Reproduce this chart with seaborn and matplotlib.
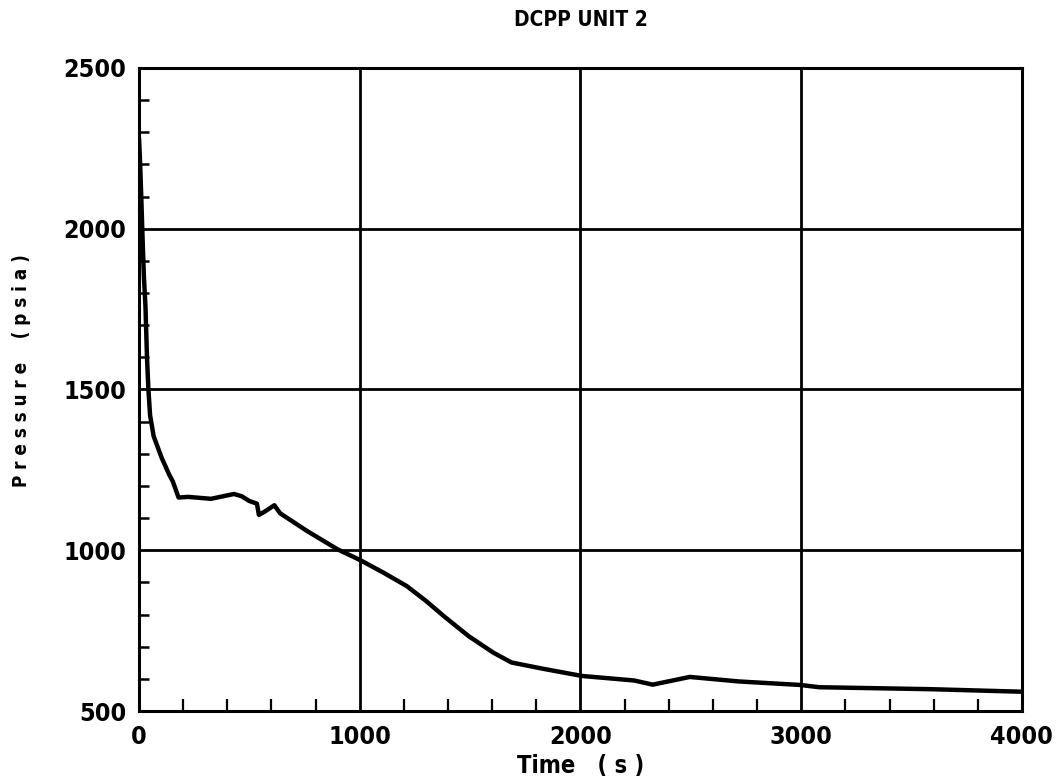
import matplotlib
matplotlib.use("Agg")
import matplotlib.pyplot as plt
from matplotlib.ticker import MultipleLocator
import seaborn as sns
import pandas as pd

# ---- data ----
time_s = [0, 5, 10, 15, 22, 29, 36, 42, 50, 66, 101, 136, 153, 179, 222, 326,
          430, 465, 500, 534, 543, 569, 613, 639, 761, 899, 1003, 1108, 1212,
          1299, 1381, 1493, 1604, 1687, 1826, 2007, 2243, 2327, 2495, 2717,
          2997, 3081, 3582, 4000]
pressure_psia = [2280, 2200, 2100, 1990, 1850, 1760, 1600, 1505, 1420, 1355,
                 1290, 1236, 1214, 1164, 1166, 1160, 1175, 1168, 1153, 1145,
                 1110, 1120, 1140, 1115, 1060, 1003, 969, 930, 889, 843, 795,
                 733, 682, 651, 632, 609, 595, 582, 606, 592, 581, 574, 568, 560]

title = "DCPP UNIT 2"
xlabel = "Time   ( s )"
ylabel = "P r e s s u r e    ( p s i a )"
x_ticks = [0, 1000, 2000, 3000, 4000]
y_ticks = [500, 1000, 1500, 2000, 2500]

df = pd.DataFrame({"Time": time_s, "Pressure": pressure_psia})

sns.set_style("white")
fam = ["DejaVu Sans"]
plt.rcParams["font.family"] = fam
for k in ["text.color", "axes.labelcolor", "xtick.color", "ytick.color"]:
    plt.rcParams[k] = "black"

fig = plt.figure(figsize=(10.59, 7.81), dpi=100)
ax = fig.add_axes([0.1313, 0.0896, 0.8337, 0.8234])

sns.lineplot(data=df, x="Time", y="Pressure", ax=ax, color="black",
             linewidth=3.2, estimator=None, sort=False)

ax.set_xlim(0, 4000)
ax.set_ylim(500, 2500)
ax.set_xticks(x_ticks)
ax.set_yticks(y_ticks)
ax.xaxis.set_minor_locator(MultipleLocator(200))
ax.yaxis.set_minor_locator(MultipleLocator(100))

ax.grid(True, which="major", color="black", linewidth=2.0)
for s in ax.spines.values():
    s.set_color("black")
    s.set_linewidth(2.2)

ax.tick_params(axis="y", which="major", direction="out", length=7, width=2,
               color="black", labelsize=18, pad=2)
ax.tick_params(axis="x", which="major", direction="out", length=4, width=2,
               color="black", labelsize=18, pad=6)
ax.tick_params(axis="x", which="minor", direction="in", length=9, width=1.6,
               color="black", bottom=True)
ax.tick_params(axis="y", which="minor", direction="in", length=7, width=1.8,
               color="black", left=True)
for lab in ax.get_xticklabels() + ax.get_yticklabels():
    lab.set_fontweight("bold")
    lab.set_fontstretch("condensed")

ax.set_xlabel(xlabel, fontsize=17, fontweight="bold", labelpad=4,
              fontstretch="condensed")
ax.set_ylabel(ylabel, fontsize=13.5, fontweight="bold",
              fontstretch="condensed")
ax.yaxis.set_label_coords(-0.122, 0.53)
ax.set_title(title, fontsize=15, fontweight="bold", pad=30,
             fontstretch="condensed")

fig.savefig("out.png", dpi=100, facecolor="white")
